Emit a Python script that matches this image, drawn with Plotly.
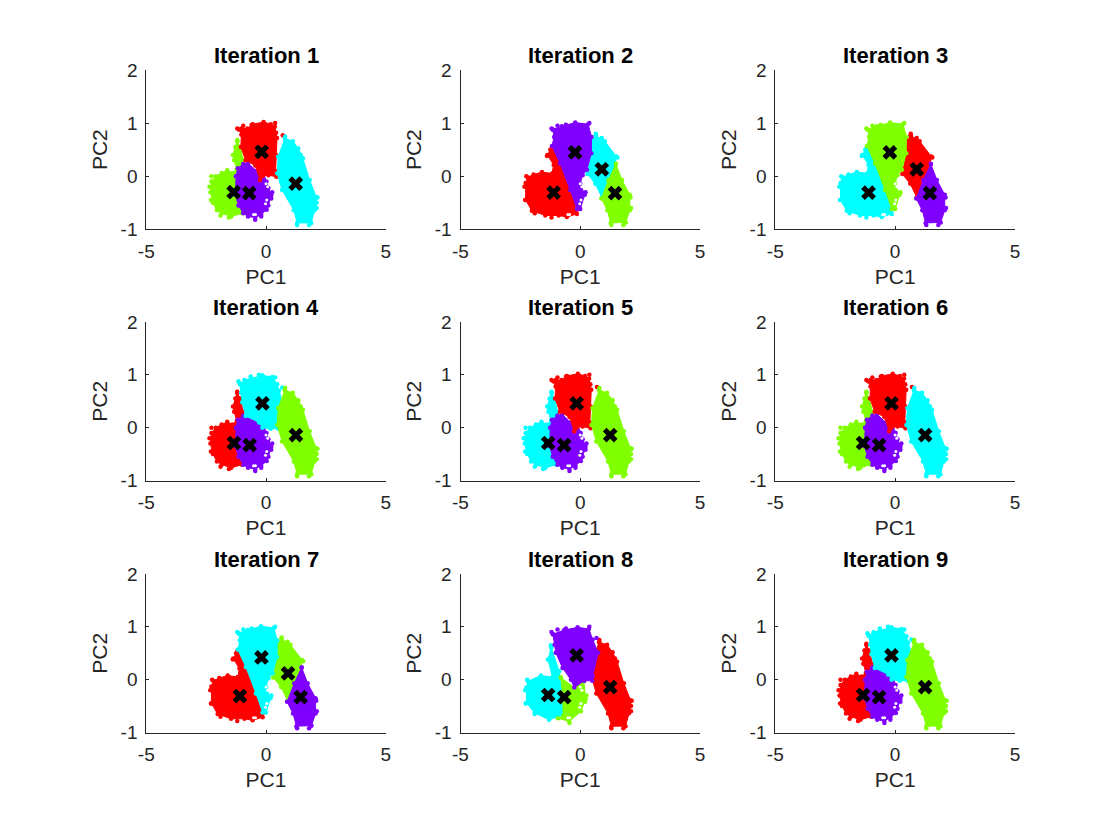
import plotly.graph_objects as go

# Colours of the four clusters
RED, GREEN, CYAN, PURPLE = "#ff0000", "#80ff00", "#00ffff", "#8000ff"

# Axis tick values and labels
x_ticks = [-5, 0, 5]
x_tick_labels = ["-5", "0", "5"]
y_ticks = [-1, 0, 1, 2]
y_tick_labels = ["-1", "0", "1", "2"]

# Cluster outlines, in PC1 / PC2 units
left_a_x = [-1.2, -1.07, -0.95, -1.0, -1.0, -1.45, -1.85, -2.05, -2.22, -2.32, -2.28, -2.1, -1.85, -1.62, -1.4, -1.22, -1.33, -1.38, -1.28]
left_a_y = [0.66, 0.55, 0.3, -0.2, -0.7, -0.76, -0.7, -0.64, -0.5, -0.3, -0.1, 0.0, 0.06, 0.11, 0.06, 0.13, 0.3, 0.4, 0.55]
mid_a_x = [-1.25, -1.18, -0.95, -0.75, -0.4, -0.1, 0.02, 0.1, 0.22, 0.1, 0.03, -0.2, -0.45, -0.75, -0.95, -1.15, -1.28]
mid_a_y = [0.0, 0.15, 0.23, 0.25, 0.1, 0.05, -0.1, -0.22, -0.36, -0.55, -0.63, -0.72, -0.78, -0.76, -0.7, -0.55, -0.35]
top_a_x = [-1.12, -1.02, -0.78, -0.55, -0.1, 0.2, 0.37, 0.42, 0.46, 0.43, 0.4, 0.43, 0.1, -0.15, -0.25, -0.45, -0.85, -1.05, -1.03]
top_a_y = [0.88, 0.9, 0.9, 0.98, 1.02, 0.98, 0.93, 0.82, 0.72, 0.4, 0.1, -0.01, 0.02, 0.0, -0.07, 0.2, 0.3, 0.55, 0.78]
top_c_x = [-1.1, -0.9, -0.64, -0.15, 0.26, 0.47, 0.54, 0.7, 0.52, 0.52, 0.19, -0.15, -0.29, -0.85, -0.99, -1.04]
top_c_y = [0.83, 0.9, 0.93, 0.99, 0.96, 0.82, 0.7, 0.48, 0.1, -0.02, -0.02, 0.0, 0.1, 0.22, 0.48, 0.66]
right_a_x = [0.79, 1.12, 1.35, 1.54, 1.82, 2.1, 2.12, 2.03, 1.89, 1.3, 1.16, 0.67, 0.47, 0.51]
right_a_y = [0.71, 0.66, 0.52, 0.34, -0.07, -0.39, -0.5, -0.64, -0.88, -0.88, -0.64, -0.26, 0.05, 0.37]

left_b_x = [-1.18, -0.84, -0.42, -0.04, -0.14, -0.56, -0.9, -1.46, -2.02, -2.28, -2.28, -2.2, -1.95, -1.6, -1.18, -1.11, -1.37, -1.25]
left_b_y = [0.55, 0.24, -0.26, -0.61, -0.71, -0.77, -0.74, -0.74, -0.65, -0.45, -0.13, -0.02, 0.03, 0.08, 0.05, 0.21, 0.4, 0.5]
top_b_x = [-1.15, -0.77, -0.21, 0.33, 0.47, 0.46, 0.28, 0.1, 0.0, 0.19, 0.0, -0.14, -0.42, -0.84, -1.18, -1.09]
top_b_y = [0.88, 0.94, 1.01, 0.98, 0.74, 0.43, 0.12, 0.02, -0.14, -0.35, -0.62, -0.62, -0.26, 0.24, 0.57, 0.74]
upper_b_x = [0.65, 1.02, 1.51, 1.46, 1.18, 0.9, 0.63, 0.3, 0.46, 0.49]
upper_b_y = [0.77, 0.66, 0.37, 0.21, -0.07, -0.4, -0.14, 0.04, 0.43, 0.68]
low_b_x = [1.49, 1.74, 2.07, 2.07, 1.9, 1.27, 1.13, 0.88, 1.18]
low_b_y = [0.23, -0.07, -0.35, -0.64, -0.87, -0.88, -0.64, -0.42, -0.07]

left_h_x = [-1.21, -0.88, -0.74, -0.71, -1.3, -1.9, -2.25, -2.25, -2.18, -1.64, -1.16, -1.35]
left_h_y = [0.61, 0.16, -0.25, -0.67, -0.76, -0.63, -0.44, -0.15, -0.03, 0.08, 0.05, 0.38]
low_h_x = [-0.81, -0.25, 0.15, 0.22, 0.03, -0.46, -0.93, -0.71, -0.74]
low_h_y = [0.04, -0.15, -0.03, -0.37, -0.6, -0.79, -0.73, -0.69, -0.25]
top_h_x = [-1.14, -0.67, -0.11, 0.36, 0.52, 0.75, 0.52, 0.5, 0.17, -0.25, -0.39, -0.74, -1.02, -1.07]
top_h_y = [0.86, 0.94, 0.99, 0.96, 0.76, 0.51, 0.07, -0.02, -0.02, -0.15, 0.0, 0.22, 0.51, 0.66]

# Loose points standing off each outline
left_a_sx = [-2.28, -2.36, -2.3, -1.9, -1.55, -1.2]
left_a_sy = [0.0, -0.2, -0.45, -0.74, -0.78, 0.68]
mid_a_sx = [-0.04, 0.26, 0.22, -0.45, -0.2]
mid_a_sy = [0.11, -0.3, -0.42, -0.82, -0.76]
top_a_sx = [-1.2, -0.95, -0.6, 0.38, 0.7]
top_a_sy = [0.9, 0.95, 0.97, 1.0, 0.77]
top_c_sx = [-1.15, -0.64, -0.3, 0.38, 0.68]
top_c_sy = [0.88, 0.97, 1.0, 0.95, 0.76]
right_a_sx = [0.8, 1.45, 2.15, 2.12, 1.3, 1.8]
right_a_sy = [0.75, 0.4, -0.4, -0.6, -0.92, -0.92]
left_b_sx = [-2.25, -2.33, -2.3, -1.9, -1.2, -1.39]
left_b_sy = [0.0, -0.2, -0.45, -0.7, -0.78, 0.38]
top_b_sx = [-1.2, -0.95, -0.6, 0.38, 0.22]
top_b_sy = [0.9, 0.95, 0.97, 1.0, -0.3]
upper_b_sx = [0.65, 0.9, 1.55]
upper_b_sy = [0.8, 0.72, 0.35]
low_b_sx = [2.1, 1.3, 1.8, 2.12]
low_b_sy = [-0.4, -0.92, -0.92, -0.6]
left_h_sx = [-2.22, -2.3, -2.28, -1.9, -1.23]
left_h_sy = [0.0, -0.2, -0.45, -0.65, 0.65]
low_h_sx = [0.26, 0.2, -0.45]
low_h_sy = [-0.3, -0.42, -0.82]
top_h_sx = [-1.2, -0.95, -0.6, 0.38, 0.68]
top_h_sy = [0.9, 0.95, 0.97, 1.0, 0.79]

# Small gaps between the dots near the lower right edge of the clusters
gap_x = [0.0, 0.07, 0.03, -0.02, -0.44, -0.52]
gap_y = [-0.14, -0.2, -0.45, -0.52, -0.72, -0.72]

# Centroids per iteration: PC1 and PC2
cent_x_1 = [-1.35, -0.70, -0.18, 1.24]
cent_y_1 = [-0.30, -0.32, 0.46, -0.14]
cent_x_2 = [-1.11, -0.22, 0.90, 1.45]
cent_y_2 = [-0.31, 0.45, 0.13, -0.32]
cent_x_3 = [-1.11, -0.22, 0.90, 1.45]
cent_y_3 = [-0.31, 0.45, 0.13, -0.32]
cent_x_4 = [-1.34, -0.68, -0.15, 1.25]
cent_y_4 = [-0.29, -0.33, 0.46, -0.14]
cent_x_5 = [-1.34, -0.67, -0.15, 1.25]
cent_y_5 = [-0.29, -0.33, 0.46, -0.14]
cent_x_6 = [-1.34, -0.67, -0.15, 1.25]
cent_y_6 = [-0.29, -0.33, 0.46, -0.14]
cent_x_7 = [-1.09, -0.19, 0.92, 1.45]
cent_y_7 = [-0.31, 0.42, 0.12, -0.33]
cent_x_8 = [-1.34, -0.67, -0.15, 1.25]
cent_y_8 = [-0.29, -0.33, 0.46, -0.14]
cent_x_9 = [-1.34, -0.67, -0.15, 1.25]
cent_y_9 = [-0.29, -0.33, 0.46, -0.14]

left_a = (left_a_x, left_a_y, left_a_sx, left_a_sy)
mid_a = (mid_a_x, mid_a_y, mid_a_sx, mid_a_sy)
top_a = (top_a_x, top_a_y, top_a_sx, top_a_sy)
top_c = (top_c_x, top_c_y, top_c_sx, top_c_sy)
right_a = (right_a_x, right_a_y, right_a_sx, right_a_sy)
left_b = (left_b_x, left_b_y, left_b_sx, left_b_sy)
top_b = (top_b_x, top_b_y, top_b_sx, top_b_sy)
upper_b = (upper_b_x, upper_b_y, upper_b_sx, upper_b_sy)
low_b = (low_b_x, low_b_y, low_b_sx, low_b_sy)
left_h = (left_h_x, left_h_y, left_h_sx, left_h_sy)
low_h = (low_h_x, low_h_y, low_h_sx, low_h_sy)
top_h = (top_h_x, top_h_y, top_h_sx, top_h_sy)

panels = [
    ([(left_a, GREEN), (mid_a, PURPLE), (top_a, RED), (right_a, CYAN)], cent_x_1, cent_y_1),
    ([(left_b, RED), (upper_b, CYAN), (low_b, GREEN), (top_b, PURPLE)], cent_x_2, cent_y_2),
    ([(left_b, CYAN), (upper_b, RED), (low_b, PURPLE), (top_b, GREEN)], cent_x_3, cent_y_3),
    ([(left_a, RED), (mid_a, PURPLE), (top_c, CYAN), (right_a, GREEN)], cent_x_4, cent_y_4),
    ([(left_a, CYAN), (mid_a, PURPLE), (top_a, RED), (right_a, GREEN)], cent_x_5, cent_y_5),
    ([(left_a, GREEN), (mid_a, PURPLE), (top_a, RED), (right_a, CYAN)], cent_x_6, cent_y_6),
    ([(left_b, RED), (upper_b, GREEN), (low_b, PURPLE), (top_b, CYAN)], cent_x_7, cent_y_7),
    ([(left_h, CYAN), (low_h, GREEN), (right_a, RED), (top_h, PURPLE)], cent_x_8, cent_y_8),
    ([(left_a, RED), (mid_a, PURPLE), (top_c, CYAN), (right_a, GREEN)], cent_x_9, cent_y_9),
]

# Page has an 8 px body margin, so the figure frame starts at (8, 8)
OFF = 8
W, H = 1104, 824
COLS = [(146.3, 385.7), (460.5, 700.0), (775.3, 1015.0)]
ROWS = [(70.0, 229.3), (322.0, 480.5), (574.0, 732.5)]
FONT = "Liberation Sans, Arial, sans-serif"
INK = "#262626"

fig = go.Figure()
layout = dict(
    width=W, height=H, margin=dict(l=0, r=0, t=0, b=0, autoexpand=False),
    paper_bgcolor="white", plot_bgcolor="white", showlegend=False,
    font=dict(family=FONT, color=INK), annotations=[],
)

for i, (clusters, cx, cy) in enumerate(panels):
    n = i + 1
    suffix = "" if n == 1 else str(n)
    xa, ya = f"x{suffix}", f"y{suffix}"
    c0, c1 = (v - OFF for v in COLS[i % 3])
    r0, r1 = (v - OFF for v in ROWS[i // 3])
    common = dict(
        showgrid=False, zeroline=False, showline=True, linecolor=INK, linewidth=1,
        ticks="inside", ticklen=3, tickwidth=1, tickcolor=INK,
        tickfont=dict(size=19, family=FONT, color=INK),
    )
    layout[f"xaxis{suffix}"] = dict(
        common, domain=[c0 / W, c1 / W], range=[-5, 5],
        tickmode="array", tickvals=x_ticks, ticktext=x_tick_labels, ticklabelstandoff=5,
        anchor=ya, title=dict(text="PC1", font=dict(size=21, family=FONT, color=INK), standoff=8),
    )
    layout[f"yaxis{suffix}"] = dict(
        common, domain=[1 - r1 / H, 1 - r0 / H], range=[-1, 2],
        tickmode="array", tickvals=y_ticks, ticktext=y_tick_labels, ticklabelstandoff=4,
        anchor=xa, title=dict(text="PC2", font=dict(size=21, family=FONT, color=INK), standoff=7),
    )
    layout["annotations"].append(dict(
        text=f"<b>Iteration {n}</b>", xref="paper", yref="paper",
        x=(c0 + c1) / 2 / W, y=1 - r0 / H, xanchor="center", yanchor="bottom",
        showarrow=False, font=dict(size=22, family=FONT, color="black"),
    ))
    for (sx, sy, lx, ly), color in clusters:
        fig.add_trace(go.Scatter(
            x=sx + sx[:1], y=sy + sy[:1], xaxis=xa, yaxis=ya, mode="lines+markers",
            fill="toself", fillcolor=color, line=dict(color=color, width=1),
            marker=dict(color=color, size=4.5), hoverinfo="skip",
        ))
        fig.add_trace(go.Scatter(
            x=lx, y=ly, xaxis=xa, yaxis=ya, mode="markers",
            marker=dict(color=color, size=4.5), hoverinfo="skip",
        ))
        if sx in (mid_a_x, low_h_x, top_b_x):
            fig.add_trace(go.Scatter(
                x=gap_x, y=gap_y, xaxis=xa, yaxis=ya, mode="markers",
                marker=dict(color="white", size=3), hoverinfo="skip",
            ))
    fig.add_trace(go.Scatter(
        x=cx, y=cy, xaxis=xa, yaxis=ya, mode="markers",
        marker=dict(symbol="x", size=13, color="black", line=dict(width=0)),
    ))

fig.update_layout(**layout)
fig.write_html("out.html", config=dict(displayModeBar=False))
